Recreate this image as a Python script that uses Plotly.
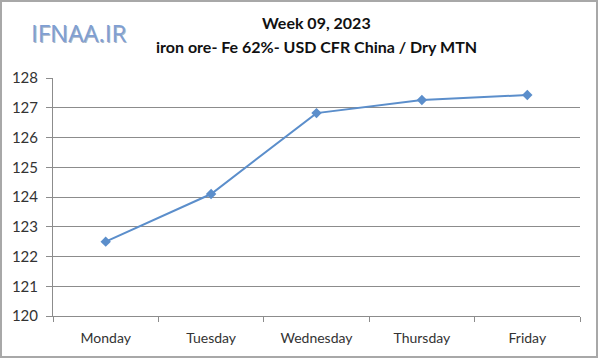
import plotly.graph_objects as go

days = ["Monday", "Tuesday", "Wednesday", "Thursday", "Friday"]
prices = [122.5, 124.1, 126.82, 127.26, 127.43]
y_ticks = [120, 121, 122, 123, 124, 125, 126, 127, 128]

W, H = 600, 361
ml, mr, mt, mb = 53, 20, 78, 45
pw, ph = W - ml - mr, H - mt - mb

fig = go.Figure()
fig.add_trace(go.Scatter(
    x=days, y=prices, mode="lines+markers",
    line=dict(color="#5b8ecb", width=2),
    marker=dict(symbol="diamond", size=8, color="#5b8ecb"),
    showlegend=False, hoverinfo="x+y",
))

def px_x(p):
    return (p - ml) / pw

def px_y(p):
    return (H - mb - p) / ph

fig.add_shape(type="rect", xref="paper", yref="paper",
              x0=px_x(1), x1=px_x(597), y0=px_y(1), y1=px_y(357),
              line=dict(color="#a8a8a8", width=2), layer="below")

# logo with shadow
fig.add_annotation(text="IFNAA.IR", xref="paper", yref="paper",
                   x=px_x(79.5), y=px_y(33.5), xanchor="center", yanchor="middle",
                   showarrow=False,
                   font=dict(family="Open Sans", size=24, color="#a9b6c8"))
fig.add_annotation(text="IFNAA.IR", xref="paper", yref="paper",
                   x=px_x(78.5), y=px_y(32.5), xanchor="center", yanchor="middle",
                   showarrow=False,
                   font=dict(family="Open Sans", size=24, color="#7f9fd3"))

fig.add_annotation(text="<b>Week 09, 2023</b>", xref="paper", yref="paper",
                   x=0.5, y=px_y(23), xanchor="center", yanchor="middle", showarrow=False,
                   font=dict(family="Lato", size=16, color="#111111"))
fig.add_annotation(text="<b>iron ore- Fe 62%- USD CFR China / Dry MTN</b>", xref="paper", yref="paper",
                   x=0.5, y=px_y(46), xanchor="center", yanchor="middle", showarrow=False,
                   font=dict(family="Lato", size=16, color="#111111"))

fig.update_layout(
    width=W, height=H,
    margin=dict(l=ml, r=mr, t=mt, b=mb),
    paper_bgcolor="white", plot_bgcolor="white",
    font=dict(family="Lato", size=13, color="#333333"),
    xaxis=dict(
        type="category", range=[-0.5, 4.5],
        showgrid=False, showline=True, linecolor="#8c8c8c", linewidth=1,
        ticks="outside", tickson="boundaries", ticklen=5, tickcolor="#8c8c8c",
        tickfont=dict(family="Lato", size=14, color="#333333"),
        ticklabelstandoff=9,
        fixedrange=True,
    ),
    yaxis=dict(
        range=[120, 128], tickvals=y_ticks, ticktext=[str(v) for v in y_ticks],
        showgrid=True, gridcolor="#8c8c8c", gridwidth=1,
        showline=True, linecolor="#8c8c8c", linewidth=1,
        ticks="outside", ticklen=6, tickcolor="#8c8c8c",
        tickfont=dict(family="Lato", size=15, color="#333333"),
        ticklabelstandoff=5,
        zeroline=False, fixedrange=True,
    ),
)

fig.write_html("out.html", config={"displayModeBar": False},
               post_script="document.body.style.margin='0';")
